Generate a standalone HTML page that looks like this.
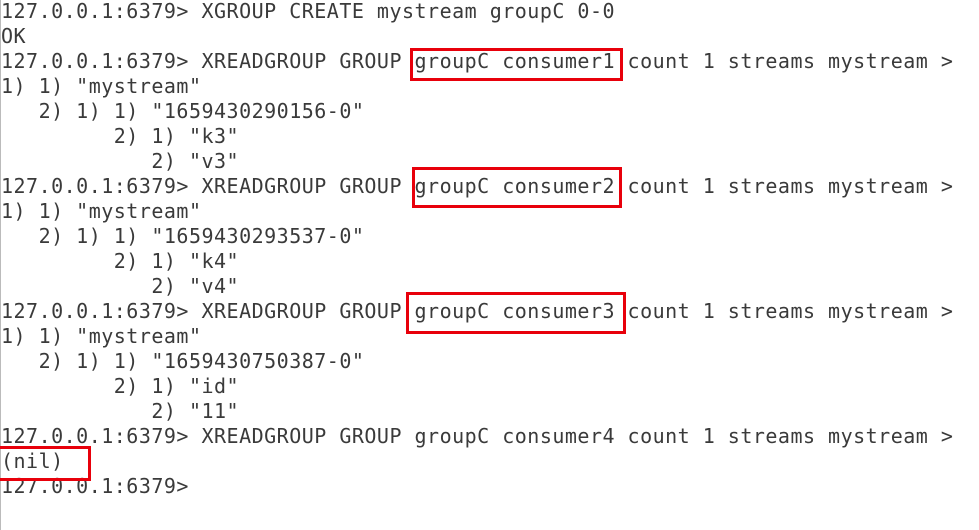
<!DOCTYPE html>
<html><head><meta charset="utf-8"><style>
html,body{margin:0;padding:0;background:#fff;}
body{width:979px;height:530px;position:relative;overflow:hidden;}
pre{position:absolute;left:1px;top:-1px;margin:0;font-family:"DejaVu Sans Mono","Liberation Mono",monospace;font-size:20px;line-height:25px;color:#3a3a3a;letter-spacing:0.49px;}
.b{position:absolute;border:3px solid #e8000b;box-sizing:border-box;}
.edge{position:absolute;left:0;top:0;width:1px;height:530px;background:#bbb;}
</style></head><body>
<div class="edge"></div>
<pre>127.0.0.1:6379> XGROUP CREATE mystream groupC 0-0
OK
127.0.0.1:6379> XREADGROUP GROUP groupC consumer1 count 1 streams mystream >
1) 1) "mystream"
   2) 1) 1) "1659430290156-0"
         2) 1) "k3"
            2) "v3"
127.0.0.1:6379> XREADGROUP GROUP groupC consumer2 count 1 streams mystream >
1) 1) "mystream"
   2) 1) 1) "1659430293537-0"
         2) 1) "k4"
            2) "v4"
127.0.0.1:6379> XREADGROUP GROUP groupC consumer3 count 1 streams mystream >
1) 1) "mystream"
   2) 1) 1) "1659430750387-0"
         2) 1) "id"
            2) "11"
127.0.0.1:6379> XREADGROUP GROUP groupC consumer4 count 1 streams mystream >
(nil)
127.0.0.1:6379></pre>
<div class="b" style="left:410px;top:48px;width:213px;height:33px;"></div>
<div class="b" style="left:412px;top:167px;width:210px;height:41px;"></div>
<div class="b" style="left:406px;top:292px;width:220px;height:42px;"></div>
<div class="b" style="left:-3px;top:446px;width:94px;height:35px;"></div>
</body></html>
